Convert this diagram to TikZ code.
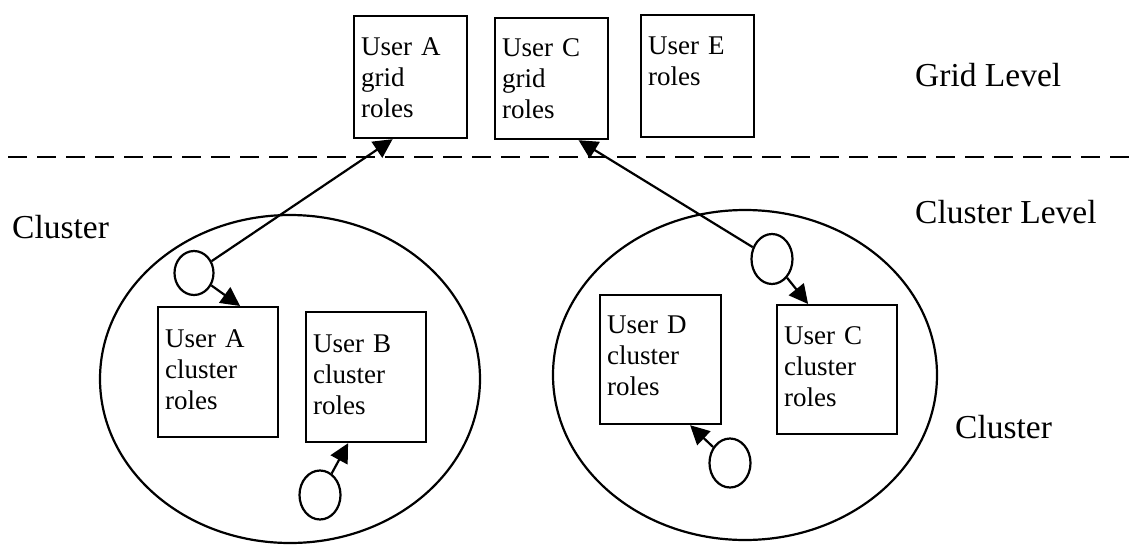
\documentclass[tikz,border=0pt]{standalone}
\usepackage{fontspec}
\setmainfont{Liberation Serif}
\usetikzlibrary{arrows.meta,shapes.geometric}
\begin{document}
\begin{tikzpicture}[x=1pt,y=-1pt,
  rolebox/.style={draw,line width=2.2pt,rectangle,align=left,anchor=north west,
    inner xsep=7pt,inner ysep=0pt,font=\fontsize{27}{31}\selectfont},
  bigell/.style={draw,ellipse,line width=2.2pt,inner sep=0pt},
  user/.style={draw,ellipse,line width=2.2pt,inner sep=0pt,fill=white},
  lvl/.style={anchor=base west,inner sep=0pt,font=\fontsize{33.5}{38}\selectfont},
  conn/.style={line width=2.2pt,-{Triangle[length=19pt,width=19pt]}},
  sep/.style={line width=2.2pt,dash pattern=on 19pt off 10pt}
]
\useasboundingbox (0,0) rectangle (1130,544);
% level separator
\coordinate (dl) at (8,157);
\coordinate (dr) at (1130,157);
\draw[sep] (dl) -- (dr);
% labels
\node[lvl] (gridlvl) at (915,86) {Grid Level};
\node[lvl] (clulvl) at (915,223) {Cluster Level};
\node[lvl] (clul) at (12,238) {Cluster};
\node[lvl] (clur) at (955,438) {Cluster};
% clusters
\node[bigell,minimum width=380pt,minimum height=328pt] (cl1) at (290,379) {};
\node[bigell,minimum width=384pt,minimum height=330pt] (cl2) at (745,375) {};
% grid boxes
\node[rolebox,text width=99pt,text height=39pt,text depth=83pt] (ga) at (353,15) {User A\\grid\\roles};
\node[rolebox,text width=99pt,text height=38pt,text depth=83pt] (gc) at (494,17) {User C\\grid\\roles};
\node[rolebox,text width=99pt,text height=39pt,text depth=83pt] (ge) at (640,14) {User E\\roles};
% cluster boxes
\node[rolebox,text width=106pt,text height=40pt,text depth=90pt] (ca) at (157,306) {User A\\cluster\\roles};
\node[rolebox,text width=106pt,text height=40pt,text depth=90pt] (cb) at (305,311) {User B\\cluster\\roles};
\node[rolebox,text width=107pt,text height=38pt,text depth=91pt] (cd) at (599,294) {User D\\cluster\\roles};
\node[rolebox,text width=106pt,text height=39pt,text depth=90pt] (cc) at (776,304) {User C\\cluster\\roles};
% users
\node[user,minimum width=39pt,minimum height=44pt] (ua) at (194,273) {};
\node[user,minimum width=41pt,minimum height=49pt] (ub) at (320,495) {};
\node[user,minimum width=41pt,minimum height=50pt] (uc) at (772,259) {};
\node[user,minimum width=41pt,minimum height=49pt] (ud) at (730,463) {};
% connectors
\draw[conn] (ua) -- ([xshift=-18pt]ga.south);
\draw[conn] (ua) -- ([xshift=22pt]ca.north);
\draw[conn] (ub) -- ([xshift=-18pt]cb.south);
\draw[conn] (uc) -- ([xshift=27pt]gc.south);
\draw[conn] (uc) -- ([xshift=-29pt]cc.north);
\draw[conn] (ud) -- ([xshift=29.5pt]cd.south);
\end{tikzpicture}
\end{document}
